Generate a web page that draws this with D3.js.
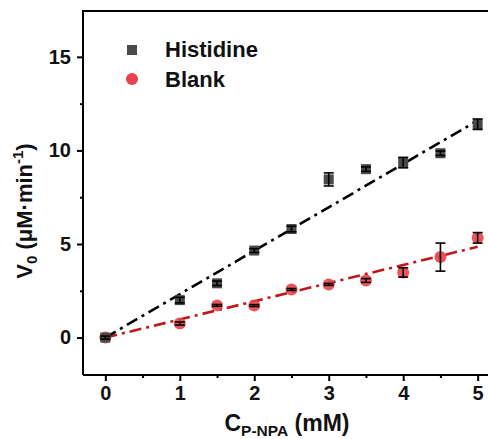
<!DOCTYPE html>
<html><head><meta charset="utf-8">
<script src="https://cdn.jsdelivr.net/npm/d3@7"></script>
<style>body{margin:0;background:#fff}svg{display:block}text{font-family:"Liberation Sans",Arial,sans-serif;font-weight:bold}</style>
</head><body><svg id="c" width="488" height="439"></svg>
<script>
const conc = [0, 1, 1.5, 2, 2.5, 3, 3.5, 4, 4.5, 5];
const histidine = [0, 2.0, 2.9, 4.65, 5.8, 8.45, 9.0, 9.35, 9.85, 11.4];
const histidineErr = [0.08, 0.15, 0.12, 0.1, 0.15, 0.35, 0.12, 0.28, 0.12, 0.28];
const blank = [0, 0.75, 1.72, 1.71, 2.57, 2.84, 3.05, 3.48, 4.3, 5.33];
const blankErr = [0.05, 0.08, 0.05, 0.05, 0.05, 0.05, 0.1, 0.25, 0.75, 0.28];
const histidineFit = [[0, 0], [5, 11.6]];
const blankFit = [[0, 0], [5, 4.85]];
const xTicks = [0, 1, 2, 3, 4, 5];
const yTicks = [0, 5, 10, 15];
const seriesNames = ["Histidine", "Blank"];

const svg = d3.select("#c");
const L = 83, R = 500, T = 11, B = 375;
const x = d3.scaleLinear().domain([-0.3, 5.3]).range([L, R]);
const y = d3.scaleLinear().domain([-2, 17.45]).range([B, T]);

svg.append("path").attr("d", `M${L},${B}V${T}H${R}M${L},${B}H${R}V${T}`)
  .attr("fill","none").attr("stroke","#000").attr("stroke-width",2);

const xa = svg.append("g").attr("transform",`translate(0,${B})`)
  .call(d3.axisBottom(x).tickValues(xTicks).tickSize(6).tickPadding(5).tickFormat(d3.format("d")));
xa.select(".domain").remove();
xa.selectAll("line").attr("stroke-width",2);
xa.selectAll("text").attr("font-size",20).attr("fill","#111");
svg.append("g").attr("transform",`translate(0,${B})`)
  .call(d3.axisBottom(x).tickValues([0.5,1.5,2.5,3.5,4.5]).tickSize(3).tickFormat(""))
  .call(g=>g.select(".domain").remove()).selectAll("line").attr("stroke-width",2);

const ya = svg.append("g").attr("transform",`translate(${L},0)`)
  .call(d3.axisLeft(y).tickValues(yTicks).tickSize(6).tickPadding(6).tickFormat(d3.format("d")));
ya.select(".domain").remove();
ya.selectAll("line").attr("stroke-width",2);
ya.selectAll("text").attr("font-size",20).attr("fill","#111");
svg.append("g").attr("transform",`translate(${L},0)`)
  .call(d3.axisLeft(y).tickValues([2.5,7.5,12.5]).tickSize(3).tickFormat(""))
  .call(g=>g.select(".domain").remove()).selectAll("line").attr("stroke-width",2);

const yt = svg.append("text").attr("transform",`translate(32,${(T+B)/2 + 18}) rotate(-90)`)
  .attr("text-anchor","middle").attr("font-size",22).attr("fill","#111");
yt.append("tspan").text("V");
yt.append("tspan").attr("font-size",15).attr("dy",5).text("0");
yt.append("tspan").attr("dy",-5).text(" (μM·min");
yt.append("tspan").attr("font-size",15).attr("dy",-9).text("-1");
yt.append("tspan").attr("dy",9).text(")");

const xt = svg.append("text").attr("x",287).attr("y",431).attr("text-anchor","middle")
  .attr("font-size",23).attr("fill","#111");
xt.append("tspan").text("C");
xt.append("tspan").attr("font-size",15.5).attr("dy",5).text("P-NPA");
xt.append("tspan").attr("dy",-5).text(" (mM)");

const line = d3.line().x(d=>x(d[0])).y(d=>y(d[1]));
const dash = "12,5,3,5";

svg.append("path").attr("d", line(blankFit)).attr("fill","none")
  .attr("stroke","#c0161c").attr("stroke-width",2.6).attr("stroke-dasharray",dash);
svg.append("path").attr("d", line(histidineFit)).attr("fill","none")
  .attr("stroke","#000").attr("stroke-width",2.6).attr("stroke-dasharray",dash);

function errBars(vals, errs){
  const g = svg.append("g").attr("stroke","#000").attr("stroke-width",1.6);
  conc.forEach((c,i)=>{
    const cx = x(c), y1 = y(vals[i]-errs[i]), y2 = y(vals[i]+errs[i]);
    g.append("line").attr("x1",cx).attr("x2",cx).attr("y1",y1).attr("y2",y2);
    g.append("line").attr("x1",cx-5).attr("x2",cx+5).attr("y1",y1).attr("y2",y1);
    g.append("line").attr("x1",cx-5).attr("x2",cx+5).attr("y1",y2).attr("y2",y2);
  });
}

svg.append("g").selectAll("circle").data(conc).join("circle")
  .attr("cx",d=>x(d)).attr("cy",(d,i)=>y(blank[i])).attr("r",6)
  .attr("fill","#e8434a").attr("fill-opacity",0.9);
errBars(blank, blankErr);

svg.append("g").selectAll("rect").data(conc).join("rect")
  .attr("x",d=>x(d)-5).attr("y",(d,i)=>y(histidine[i])-5).attr("width",10).attr("height",10)
  .attr("fill","#4a4a4a");
errBars(histidine, histidineErr);

svg.append("rect").attr("x",127).attr("y",45).attr("width",10).attr("height",10).attr("fill","#4a4a4a");
svg.append("circle").attr("cx",132).attr("cy",79).attr("r",6).attr("fill","#e8434a");
svg.append("text").attr("x",165).attr("y",57).attr("font-size",22).attr("fill","#111").text(seriesNames[0]);
svg.append("text").attr("x",165).attr("y",87).attr("font-size",22).attr("fill","#111").text(seriesNames[1]);
</script></body></html>
